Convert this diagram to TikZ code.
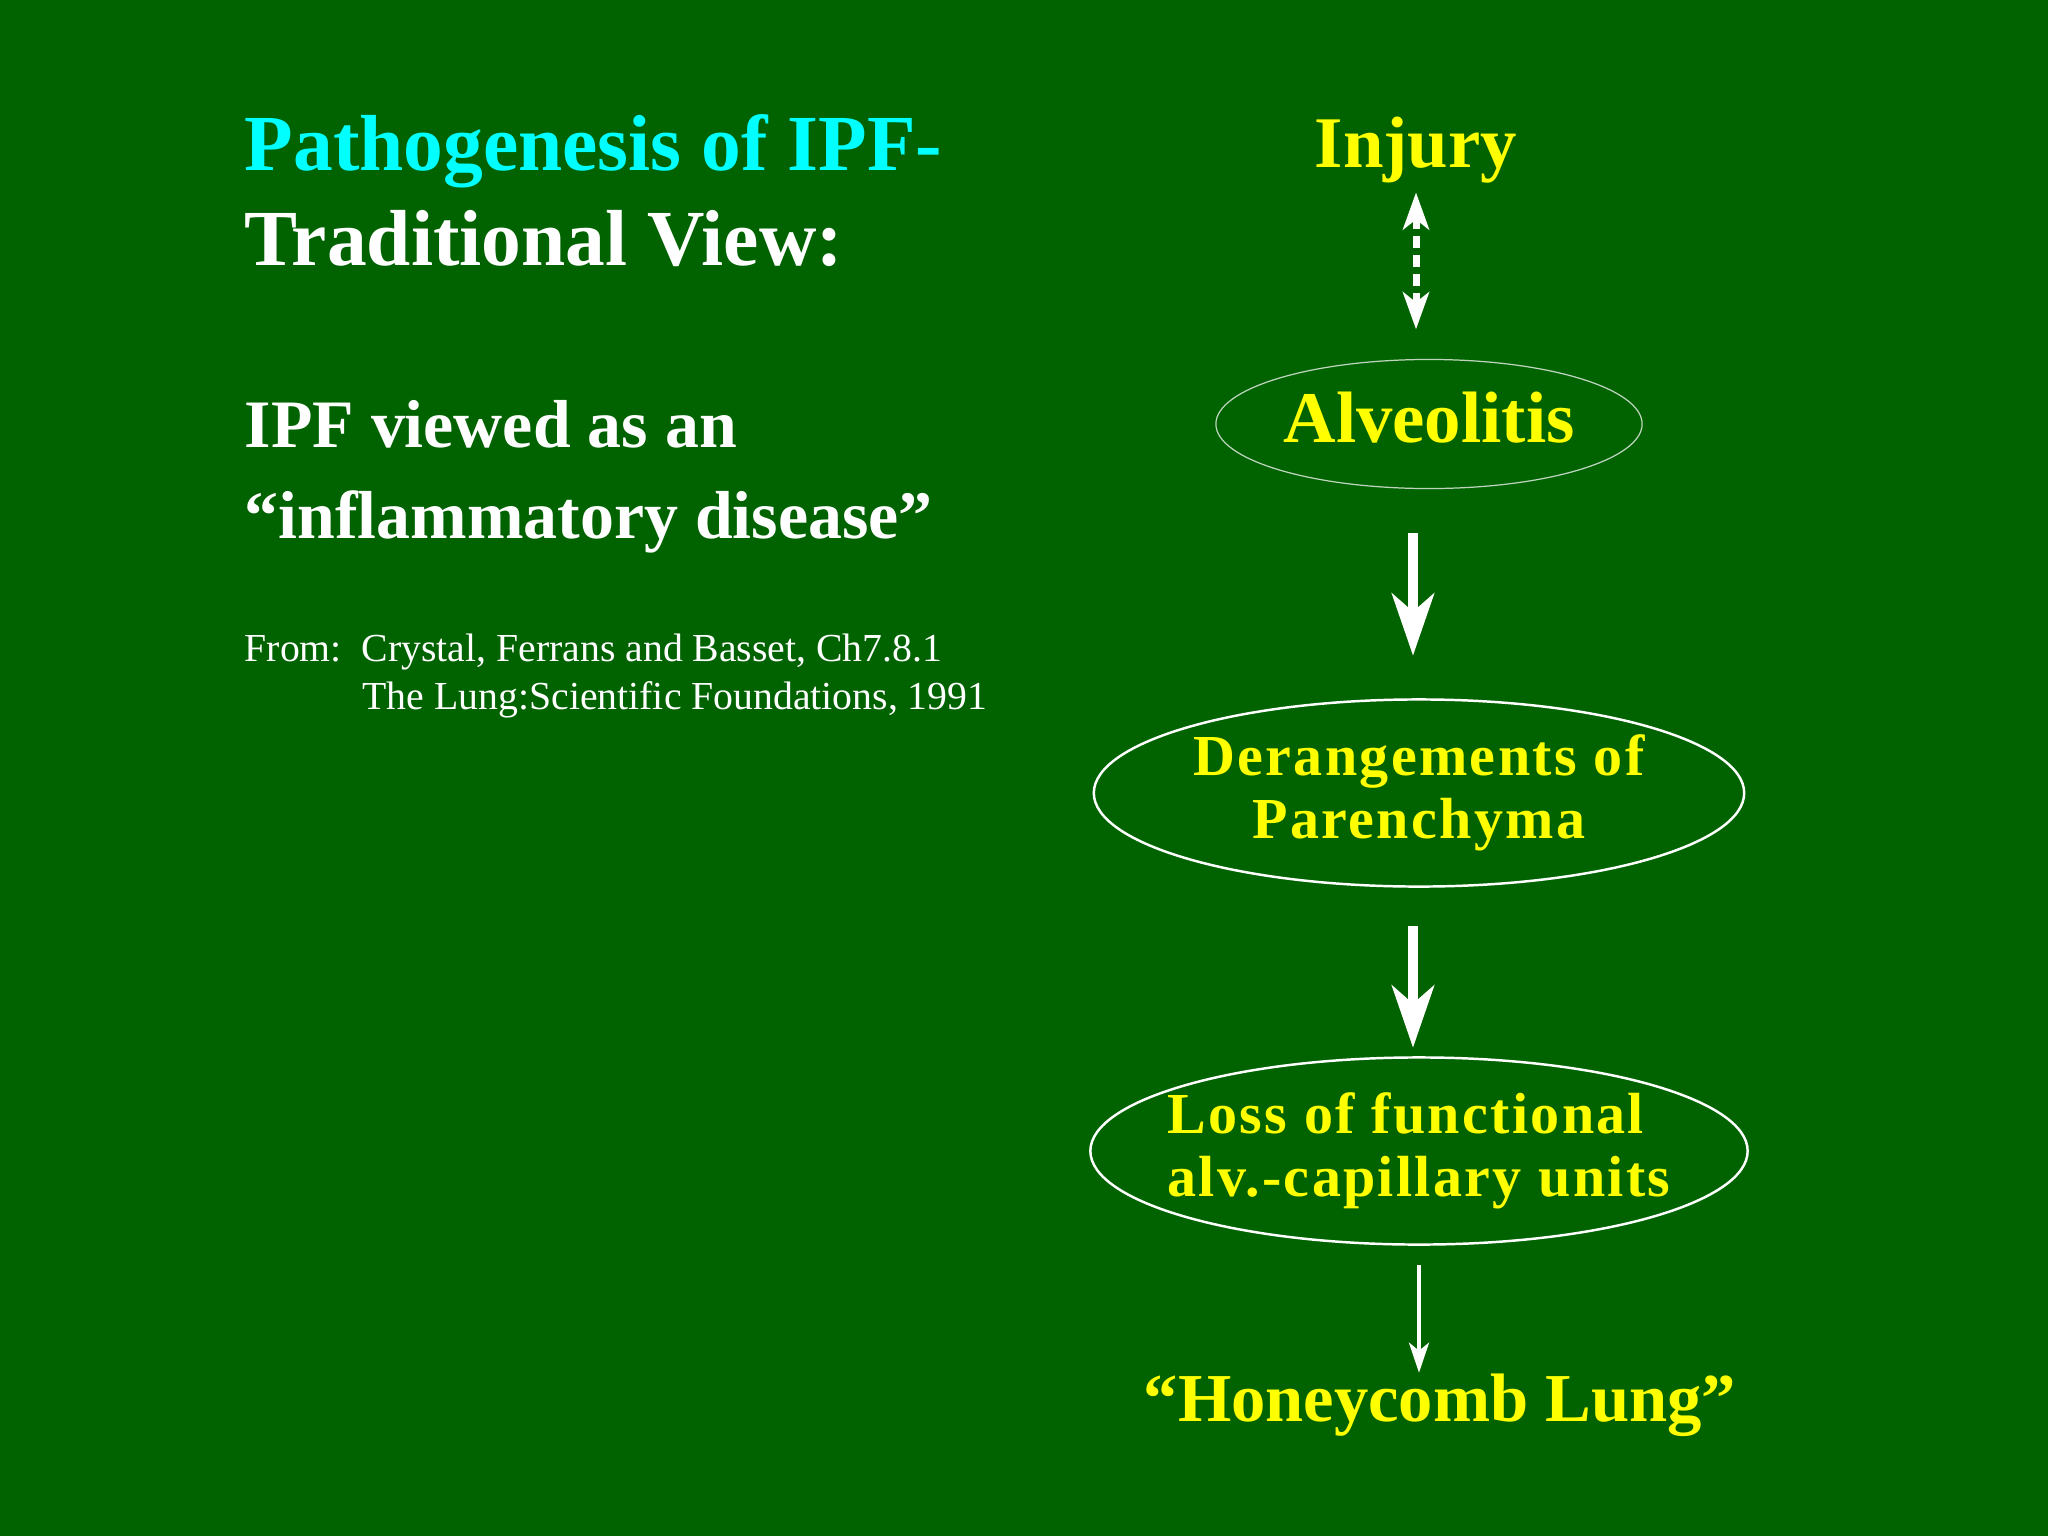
\documentclass[tikz,border=0pt]{standalone}
\usepackage{fontspec}
\setmainfont{Liberation Serif}
\usepackage{tikz}
\usepackage{xcolor}
\usetikzlibrary{arrows.meta,shapes.geometric}
\definecolor{slidegreen}{RGB}{0,99,0}
\definecolor{titlecyan}{RGB}{0,255,255}
\definecolor{stepyellow}{RGB}{255,255,0}
\definecolor{rimgray}{RGB}{190,212,190}

\begin{document}
\begin{tikzpicture}[x=0.01cm,y=-0.01cm,
		heading/.style={inner sep=0pt, anchor=base west, font=\fontsize{22.6}{27}\selectfont\bfseries},
		lead/.style={inner sep=0pt, anchor=base west, white, font=\fontsize{19.3}{23}\selectfont\bfseries},
		source/.style={inner sep=0pt, anchor=base west, white, font=\fontsize{11.3}{13.6}\selectfont},
		steplabel/.style={inner sep=0pt, anchor=base, stepyellow, font=\fontsize{20.7}{24.8}\selectfont\bfseries},
		bubble/.style={ellipse, draw=white, line width=0.7pt, inner sep=0pt, text=stepyellow,
			minimum width=6.5cm, minimum height=1.87cm,
			font=\fontsize{16.5}{17.9}\selectfont\bfseries\addfontfeature{LetterSpace=4}},
		bigarrow/.style={white, line width=0.1cm, -{Stealth[length=0.62cm, width=0.42cm, inset=0.18cm]}},
		thinarrow/.style={white, line width=0.04cm, -{Stealth[length=0.3cm, width=0.2cm, inset=0.08cm]}}
	]
	\fill[slidegreen] (0,0) rectangle (2048,1536);
	\useasboundingbox (0,0) rectangle (2048,1536);

	% left column
	\node[heading, titlecyan] (title) at (244,170) {Pathogenesis of IPF-};
	\node[heading, white] (subtitle) at (244,265) {Traditional View:};
	\node[lead] (view) at (244,447) {IPF viewed as an};
	\node[lead] (disease) at (244,538) {“inflammatory disease”};
	\node[source] (from) at (244,661) {From:\ \ Crystal, Ferrans and Basset, Ch7.8.1};
	\node[source] (book) at (362,709) {The Lung:Scientific Foundations, 1991};

	% right column
	\node[steplabel] (injury) at (1416,167) {Injury};
	\node[ellipse, draw=rimgray, line width=0.35pt, inner sep=0pt, text=stepyellow, text depth=0.14cm,
		minimum width=4.26cm, minimum height=1.29cm,
		font=\fontsize{20.7}{24.8}\selectfont\bfseries] (alv) at (1429,424) {Alveolitis};
	\node[bubble, align=center] (der) at (1419,793) {Derangements of\\Parenchyma};
	\node[bubble, align=left, inner xsep=-0.19cm] (loss) at (1419,1151) {Loss of functional\\alv.-capillary units};
	\node[steplabel, font=\fontsize{19.5}{23.4}\selectfont\bfseries] (honey) at (1440,1421) {“Honeycomb Lung”};

	\draw[white, line width=0.07cm, dash pattern=on 0.12cm off 0.07cm,
		{Stealth[length=0.37cm, width=0.26cm, inset=0.1cm]}-{Stealth[length=0.37cm, width=0.26cm, inset=0.1cm]},
		shorten <=0.09cm, shorten >=0.295cm] (injury.south) -- (injury.south |- alv.north);
	\foreach \a/\b/\s/\e in {alv/der/0.435cm/0.425cm, der/loss/0.385cm/0.085cm}
		\draw[bigarrow, shorten <=\s, shorten >=\e] ([xshift=-0.06cm]\b.north |- \a.south) -- ([xshift=-0.06cm]\b.north);
	\draw[thinarrow, shorten <=0.195cm] (loss.south) -- (loss.south |- honey.north);
\end{tikzpicture}
\end{document}
